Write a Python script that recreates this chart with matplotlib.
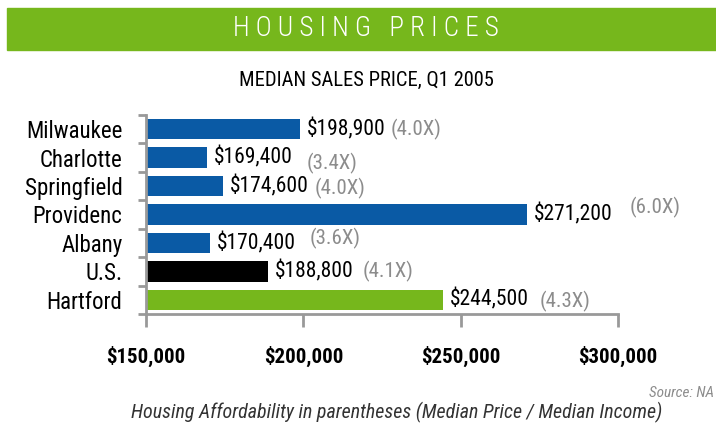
import matplotlib
matplotlib.use("Agg")
import matplotlib.pyplot as plt
from matplotlib.patches import Rectangle
from matplotlib.ticker import FuncFormatter, FixedLocator

plt.rcParams["font.family"] = ["Roboto Condensed", "Sofia Sans Condensed", "DejaVu Sans"]

cities = ["Milwaukee", "Charlotte", "Springfield", "Providenc", "Albany", "U.S.", "Hartford"]
prices = [198900, 169400, 174600, 271200, 170400, 188800, 244500]
ratios = ["(4.0X)", "(3.4X)", "(4.0X)", "(6.0X)", "(3.6X)", "(4.1X)", "(4.3X)"]
x_ticks = [150000, 200000, 250000, 300000]

# layout only: where each gray ratio label sits (data x) and small vertical nudges
ratio_x = [227600, 201200, 203700, 303800, 202100, 219000, 275200]
ratio_dy = [0.0, -0.2, -0.1, 0.25, 0.17, 0.0, -0.05]

BLUE, GREEN, GRAY = "#0A5AA5", "#76B71C", "#8C8C8C"
colors = [BLUE] * 5 + ["#000000", GREEN]

fig = plt.figure(figsize=(7.16, 4.25), dpi=100)
fig.patches.append(Rectangle((7 / 716, 1 - 50 / 425), 709 / 716, 42 / 425,
                             transform=fig.transFigure, color=GREEN, zorder=0))
fig.text(366 / 716, 1 - 29 / 425, "H O U S I N G   P R I C E S", color="white",
         fontsize=19.5, fontweight="light", ha="center", va="center")
fig.text(366 / 716, 1 - 80 / 425, "MEDIAN SALES PRICE, Q1 2005", fontsize=14.8,
         ha="center", va="center")

ax = fig.add_axes([146 / 716, 1 - 314 / 425, 472 / 716, 199 / 425])
y = list(range(len(cities)))
ax.barh(y, prices, left=0, height=0.72, color=colors)
ax.set_xlim(150000, 300000)
ax.set_ylim(len(cities) - 0.5, -0.5)

for i, (p, r) in enumerate(zip(prices, ratios)):
    ax.annotate(f"${p:,}", (p, i), xytext=(5, 0), textcoords="offset points",
                va="center", ha="left", fontsize=15.5)
    ax.text(ratio_x[i], i - ratio_dy[i], r, va="center", ha="left", fontsize=15, color=GRAY)

ax.xaxis.set_major_locator(FixedLocator(x_ticks))
ax.xaxis.set_major_formatter(FuncFormatter(lambda v, _: f"${v:,.0f}"))
ax.set_yticks([v + 0.5 for v in [-1] + y])
ax.set_yticklabels([])
ax.set_yticks(y, minor=True)
ax.set_yticklabels(cities, minor=True)
ax.tick_params(axis="y", which="minor", length=0, pad=17, labelsize=16.5)
ax.tick_params(axis="y", which="major", length=6, width=2, color="#999999")
ax.tick_params(axis="x", length=9, width=2, color="#999999", pad=14, labelsize=15)
for lab in ax.get_xticklabels():
    lab.set_fontweight("bold")
for s in ["top", "right"]:
    ax.spines[s].set_visible(False)
for s in ["left", "bottom"]:
    ax.spines[s].set_color("#999999")
    ax.spines[s].set_linewidth(2)

fig.text(0.997, 1 - 393 / 425, "Source: NA", fontsize=11, style="italic", color=GRAY,
         ha="right", va="center")
fig.text(397 / 716, 1 - 412 / 425,
         "Housing Affordability in parentheses (Median Price / Median Income)",
         fontsize=14.4, style="italic", color="#333333", ha="center", va="center")

fig.savefig("out.png", dpi=100)
